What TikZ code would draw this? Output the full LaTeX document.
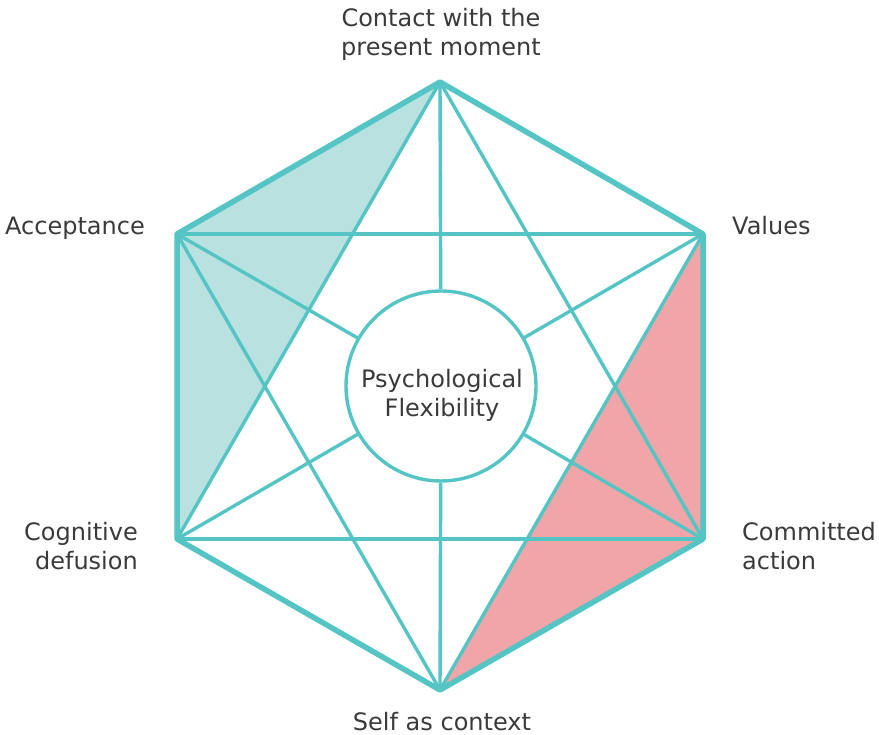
\documentclass[tikz,border=0pt]{standalone}
\usepackage{fontspec}
\setmainfont{DejaVu Sans}
\definecolor{hexline}{RGB}{84,196,196}
\definecolor{hexfill}{RGB}{184,225,224}
\definecolor{redfill}{RGB}{240,166,168}
\definecolor{labeltext}{RGB}{58,58,58}
\tikzset{
  lbl/.style={inner sep=0pt, text=labeltext, font=\fontsize{24}{29}\selectfont},
  thinline/.style={draw=hexline, line width=3.4pt},
  thickline/.style={draw=hexline, line width=5.5pt, line join=round},
  hub/.style={circle, draw=hexline, line width=3.4pt, fill=white, minimum size=190pt, inner sep=0pt}
}
\begin{document}
\begin{tikzpicture}[x=1pt,y=-1pt]
\useasboundingbox (0,0) rectangle (879,735);
\coordinate (T) at (440,82);
\coordinate (UL) at (177,234);
\coordinate (UR) at (703,234);
\coordinate (LL) at (177,539);
\coordinate (LR) at (703,539);
\coordinate (B) at (440,690);
\fill[hexfill] (T) -- (UL) -- (LL) -- cycle;
\fill[redfill] (UR) -- (LR) -- (B) -- cycle;
\node[hub] (pf) at (441,386) {};
\draw[thinline] (UL) -- (UR);
\draw[thinline] (LL) -- (LR);
\draw[thinline] (T) -- (LL);
\draw[thinline] (T) -- (LR);
\draw[thinline] (B) -- (UL);
\draw[thinline] (B) -- (UR);
\draw[thinline] (T) -- (pf);
\draw[thinline] (B) -- (pf);
\draw[thinline] (UL) -- (pf);
\draw[thinline] (UR) -- (pf);
\draw[thinline] (LL) -- (pf);
\draw[thinline] (LR) -- (pf);
\draw[thickline] (T) -- (UR) -- (LR) -- (B) -- (LL) -- (UL) -- cycle;
\node[lbl, anchor=base] (pftext) at (442,388) {\begin{tabular}[t]{@{}c@{}}Psychological\\Flexibility\end{tabular}};
\node[lbl, anchor=base] (contact) at (441,27) {\begin{tabular}[t]{@{}c@{}}Contact with the\\present moment\end{tabular}};
\node[lbl, anchor=base east] (acc) at (145,235) {Acceptance};
\node[lbl, anchor=base west] (val) at (732,235) {Values};
\node[lbl, anchor=base east] (cog) at (138,540) {\begin{tabular}[t]{@{}r@{}}Cognitive\\defusion\end{tabular}};
\node[lbl, anchor=base west] (com) at (742,540) {\begin{tabular}[t]{@{}l@{}}Committed\\action\end{tabular}};
\node[lbl, anchor=base] (self) at (442,730) {Self as context};
\end{tikzpicture}
\end{document}
